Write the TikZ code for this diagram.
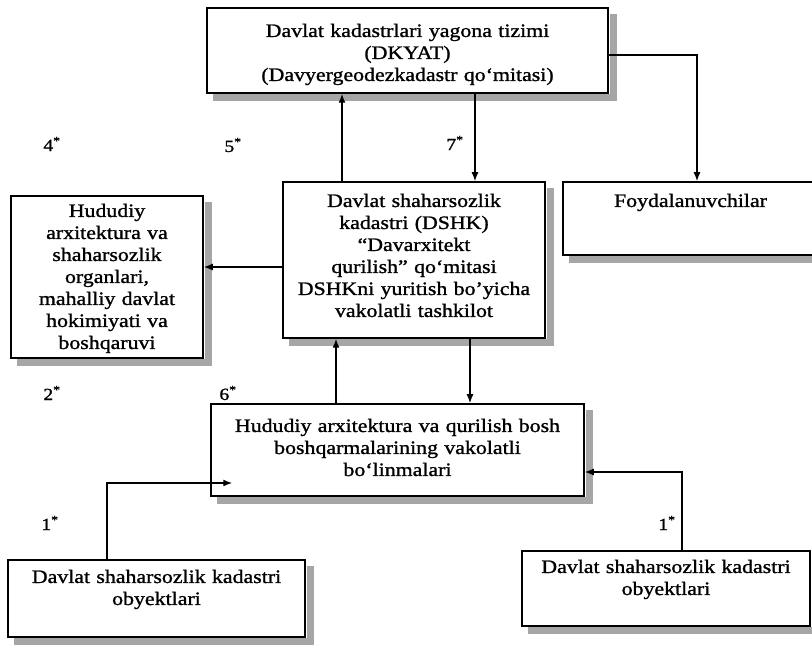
\documentclass[tikz,border=0pt]{standalone}
\usepackage{fontspec}
\setmainfont{Liberation Serif}[FakeStretch=1.15,FakeBold=1.2]
\usetikzlibrary{calc,arrows.meta}

\begin{document}
\begin{tikzpicture}[x=1pt,y=1pt]
    \tikzstyle{block} = [rectangle,draw=black,line width=1.5pt,fill=white,
    inner sep=0pt,align=center,font=\fontsize{19}{22}\selectfont,
    node distance=200pt];
    \tikzstyle{boxshadow} = [draw=black!35,line width=7pt,line join=miter];
    \tikzstyle{num} = [font=\fontsize{17}{20}\selectfont];
    \tikzstyle{link} = [black,line width=1.4pt,-{Latex[length=9pt,width=7pt]}];

    \useasboundingbox (0,0) rectangle (812,645);

    \node[block,name=dshk,text width=262pt,text height=25pt,text depth=131pt]
    at (414,385) {Davlat shaharsozlik\\kadastri (DSHK)\\“Davarxitekt\\qurilish” qo‘mitasi\\DSHKni yuritish bo'yicha\\vakolatli tashkilot};

    \node[block,name=dkyat,above of=dshk,xshift=-6.5pt,yshift=9.5pt,
    text width=401pt,text height=29pt,text depth=56pt]
    {Davlat kadastrlari yagona tizimi\\(DKYAT)\\(Davyergeodezkadastr qo‘mitasi)};
    \node[block,name=organ,left of=dshk,xshift=-107pt,yshift=-17pt,
    text width=192pt,text height=21pt,text depth=141pt]
    {Hududiy\\arxitektura va\\shaharsozlik\\organlari,\\mahalliy davlat\\hokimiyati va\\boshqaruvi};
    \node[block,name=users,right of=dshk,xshift=76.5pt,yshift=41.5pt,
    text width=255pt,text height=25pt,text depth=48pt] {Foydalanuvchilar};

    \node[block,name=bolinma,below of=dshk,xshift=-16.5pt,yshift=10pt,
    text width=373pt,text height=28pt,text depth=64pt]
    {Hududiy arxitektura va qurilish bosh\\boshqarmalarining vakolatli\\bo‘linmalari};
    \node[block,name=objleft,below of=bolinma,xshift=-241pt,yshift=51.5pt,
    text width=297pt,text height=23pt,text depth=54pt]
    {Davlat shaharsozlik kadastri\\obyektlari};
    \node[block,name=objright,below of=bolinma,xshift=268.5pt,yshift=61.5pt,
    text width=288pt,text height=22pt,text depth=53pt]
    {Davlat shaharsozlik kadastri\\obyektlari};

    % shadow strips along the right and bottom sides
    \foreach \bx in {dkyat,dshk,organ,users,bolinma,objleft,objright}
      \draw[boxshadow] ($(\bx.north east)+(4.25,-7)$) -- ($(\bx.south east)+(4.25,-4.25)$)
        -- ($(\bx.south west)+(7,-4.25)$);

    \path ([xshift=-72pt]dshk.north) edge[link] ([xshift=-72pt]dshk.north |- dkyat.south);
    \path ([xshift=61pt]dshk.north |- dkyat.south) edge[link] ([xshift=61pt]dshk.north);
    \draw[link] ([yshift=-4.5pt]dkyat.east) -| ([xshift=6.5pt]users.north);
    \path ([yshift=-7pt]dshk.west) edge[link] ([yshift=-7pt]dshk.west -| organ.east);

    \path ([xshift=-61.5pt]bolinma.north) edge[link] ([xshift=-61.5pt]bolinma.north |- dshk.south);
    \path ([xshift=72.5pt]bolinma.north |- dshk.south) edge[link] ([xshift=72.5pt]bolinma.north);
    \draw[link] ([xshift=-49.5pt]objleft.north) |- ([xshift=22pt,yshift=-33pt]bolinma.west);
    \draw[link] ([xshift=16pt]objright.north) |- ([yshift=-22pt]bolinma.east);

    \node[num,name=n4] at (52,501) {4\textsuperscript{*}};
    \node[num,name=n5] at (233,500) {5\textsuperscript{*}};
    \node[num,name=n7] at (455,502) {7\textsuperscript{*}};
    \node[num,name=n2] at (52,252) {2\textsuperscript{*}};
    \node[num,name=n6] at (228,252) {6\textsuperscript{*}};
    \node[num,name=n1a] at (50,122) {1\textsuperscript{*}};
    \node[num,name=n1b] at (667,122) {1\textsuperscript{*}};

  \end{tikzpicture}
\end{document}
